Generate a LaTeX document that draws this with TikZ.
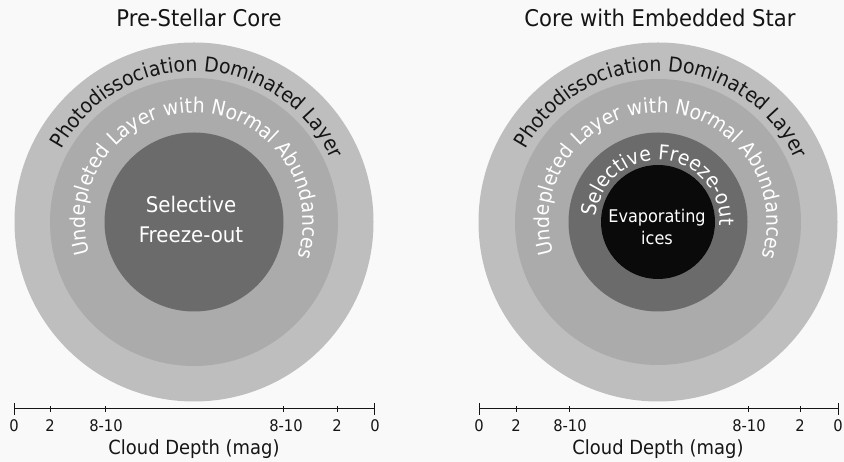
\documentclass[tikz,border=0pt]{standalone}
\usepackage{fontspec}
\setmainfont{DejaVu Sans}
\newfontfamily\narrowfnt[FakeStretch=0.92]{DejaVu Sans}
\usetikzlibrary{decorations.text}
\definecolor{bg}{HTML}{F9F9F9}
\definecolor{ringA}{HTML}{BEBEBE}
\definecolor{ringB}{HTML}{ABABAB}
\definecolor{ringC}{HTML}{6B6B6B}
\definecolor{coreD}{HTML}{0A0A0A}
\definecolor{ink}{HTML}{151515}
\newcommand\curvefnt{\narrowfnt\fontsize{20.5}{20.5}\selectfont}
\tikzset{
  curvetext/.style={decorate, decoration={text along path, text align=center, text={#1}}},
  titletext/.style={font=\narrowfnt\fontsize{23}{23}\selectfont, text=ink, anchor=base},
  ticklabel/.style={font=\narrowfnt\fontsize{16}{16}\selectfont, text=ink, anchor=base},
  axislabel/.style={font=\narrowfnt\fontsize{19.5}{19.5}\selectfont, text=ink, anchor=base},
  innertext/.style={font=\narrowfnt\fontsize{21.5}{21.5}\selectfont, text=white, anchor=base},
  icetext/.style={font=\narrowfnt\fontsize{17.5}{17.5}\selectfont, text=white, anchor=base},
  axisline/.style={draw=ink, line width=1pt},
}
\begin{document}
\begin{tikzpicture}[x=1pt,y=1pt]
\fill[bg] (0,0) rectangle (844,462);
\useasboundingbox (0,0) rectangle (844,462);
\coordinate (L) at (194,240);
\coordinate (R) at (658,240);
% ---------- left disc ----------
\fill[ringA] (L) circle (179.5);
\fill[ringB] (L) circle (144);
\fill[ringC] (L) circle (89.5);
% ---------- right disc ----------
\fill[ringA] (R) circle (179.5);
\fill[ringB] (R) circle (143);
\fill[ringC] (R) circle (89.5);
\fill[coreD] (R) circle (57);
% ---------- curved texts ----------
\path[curvetext={|\curvefnt\color{ink}|Photodissociation Dominated Layer}]
  ([shift={(198:151)}]L) arc[start angle=198, end angle=-22, radius=151];
\path[curvetext={|\curvefnt\color{white}|Undepleted Layer with Normal Abundances}]
  ([shift={(234:109)}]L) arc[start angle=234, end angle=-56, radius=109];
\path[curvetext={|\curvefnt\color{ink}|Photodissociation Dominated Layer}]
  ([shift={(198:151)}]R) arc[start angle=198, end angle=-22, radius=151];
\path[curvetext={|\curvefnt\color{white}|Undepleted Layer with Normal Abundances}]
  ([shift={(234:109)}]R) arc[start angle=234, end angle=-56, radius=109];
\path[curvetext={|\curvefnt\color{white}|Selective Freeze-out}]
  ([shift={(216:62)}]R) arc[start angle=216, end angle=-44, radius=62];
% ---------- inner labels ----------
\node[innertext] (selL) at (191,249) {Selective};
\node[innertext] (frzL) at (191,219) {Freeze-out};
\node[icetext] (evR) at (657,239) {Evaporating};
\node[icetext] (icR) at (657,217) {ices};
% ---------- titles ----------
\node[titletext] (tL) at (199,435) {Pre-Stellar Core};
\node[titletext] (tR) at (660,435) {Core with Embedded Star};
% ---------- left axis ----------
\coordinate (la0) at (14,53);  \coordinate (la5) at (374,53);
\draw[axisline] (la0) -- (la5);
\draw[axisline] (14,47) -- (14,59);
\draw[axisline] (374,47) -- (374,59);
\foreach \xx in {50,105,283,337} \draw[axisline] (\xx,50) -- (\xx,56);
\node[ticklabel] (l0) at (14,30) {0};
\node[ticklabel] (l1) at (50,30) {2};
\node[ticklabel] (l2) at (106,30) {8-10};
\node[ticklabel] (l3) at (286,30) {8-10};
\node[ticklabel] (l4) at (337,30) {2};
\node[ticklabel] (l5) at (375,30) {0};
\node[axislabel] (lx) at (194,7) {Cloud Depth (mag)};
% ---------- right axis ----------
\coordinate (ra0) at (479,53);  \coordinate (ra5) at (838,53);
\draw[axisline] (ra0) -- (ra5);
\draw[axisline] (479,47) -- (479,59);
\draw[axisline] (838,47) -- (838,59);
\foreach \xx in {516,569,748,800} \draw[axisline] (\xx,50) -- (\xx,56);
\node[ticklabel] (r0) at (479,30) {0};
\node[ticklabel] (r1) at (516,30) {2};
\node[ticklabel] (r2) at (570,30) {8-10};
\node[ticklabel] (r3) at (749,30) {8-10};
\node[ticklabel] (r4) at (800,30) {2};
\node[ticklabel] (r5) at (838,30) {0};
\node[axislabel] (rx) at (658,7) {Cloud Depth (mag)};
\end{tikzpicture}
\end{document}
